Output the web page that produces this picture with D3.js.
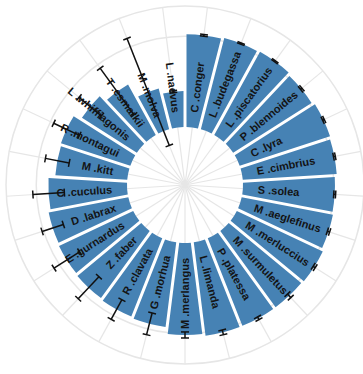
<!DOCTYPE html>
<html>
<head>
<meta charset="utf-8">
<script src="https://cdn.jsdelivr.net/npm/d3@7"></script>
<style>
  html, body { margin: 0; padding: 0; background: #fff; }
  svg { display: block; }
</style>
</head>
<body>
<svg id="chart" width="363" height="374"></svg>
<script>
// Species, in clockwise order from the top
const species = [
  "C .conger", "L .budegassa", "L .piscatorius", "P .blennoides", "C .lyra",
  "E .cimbrius", "S .solea", "M .aeglefinus", "M .merluccius", "M .surmuletus",
  "P .platessa", "L .limanda", "M .merlangus", "G .morhua", "R .clavata",
  "Z .faber", "E .gurnardus", "D .labrax", "C .cuculus", "M .kitt",
  "R .montagui", "L .whiffiagonis", "T .esmarkii", "M .molva", "L .naevus"
];

// Mean value per species
const means = [
  3.07, 3.11, 3.14, 3.07, 3.14,
  3.11, 3.04, 3.07, 3.14, 3.11,
  3.11, 3.11, 3.04, 2.82, 2.78,
  2.74, 2.71, 2.68, 2.60, 2.38,
  2.41, 2.15, 1.90, 1.39, 1.19
];

// Error (half-width) per species
const errors = [
  0.03, 0.02, 0.02, 0.03, 0.03,
  0.03, 0.03, 0.04, 0.04, 0.08,
  0.05, 0.08, 0.10, 0.37, 0.37,
  0.50, 0.50, 0.37, 0.52, 0.40,
  0.47, 0.48, 0.95, 1.90, 0.03
];

// Radial grid levels
const gridLevels = [3, 4];

const svg = d3.select("#chart");
const cx = 185, cy = 185;
const innerRadius = 58, outerRadius = 179;

const g = svg.append("g").attr("transform", `translate(${cx},${cy})`);

const x = d3.scaleBand()
  .domain(species)
  .range([0, 2 * Math.PI])
  .align(0);

const y = d3.scaleLinear()
  .domain([0, 4])
  .range([innerRadius, outerRadius]);

const data = species.map((s, i) => ({ name: s, mean: means[i], err: errors[i] }));

const midAngle = d => x(d.name) + x.bandwidth() / 2;
const deg = a => a * 180 / Math.PI;

// Spokes at the centre of each band
g.append("g")
  .selectAll("line")
  .data(data)
  .join("line")
  .attr("x1", 0).attr("y1", 0)
  .attr("x2", d => outerRadius * Math.sin(midAngle(d)))
  .attr("y2", d => -outerRadius * Math.cos(midAngle(d)))
  .attr("stroke", "#e6e6e6")
  .attr("stroke-width", 1.2);

// Concentric grid circles
g.append("g")
  .selectAll("circle")
  .data(gridLevels)
  .join("circle")
  .attr("r", d => y(d))
  .attr("fill", "none")
  .attr("stroke", "#e6e6e6")
  .attr("stroke-width", 1.5);

// Bars
const arc = d3.arc()
  .innerRadius(innerRadius)
  .outerRadius(d => y(d.mean))
  .startAngle(d => x(d.name))
  .endAngle(d => x(d.name) + x.bandwidth())
  .padAngle(0.012)
  .padRadius(250);

g.append("g")
  .selectAll("path")
  .data(data)
  .join("path")
  .attr("d", arc)
  .attr("fill", "steelblue");

// Labels inside the bars, flipped on the left half so they read upright
const labelRadius = 73;
g.append("g")
  .selectAll("g")
  .data(data)
  .join("g")
  .attr("transform", d => `rotate(${deg(midAngle(d)) - 90}) translate(${labelRadius},0)`)
  .append("text")
  .attr("transform", d => deg(midAngle(d)) >= 179.999 ? "rotate(180)" : null)
  .attr("text-anchor", d => deg(midAngle(d)) >= 179.999 ? "end" : "start")
  .attr("dy", "0.35em")
  .attr("font-family", "'Liberation Sans', Arial, sans-serif")
  .attr("font-weight", "bold")
  .attr("font-size", 11)
  .attr("fill", "#141414")
  .text(d => d.name);

// Error bars along each bar's radius
const cap = 4;
const eb = g.append("g")
  .selectAll("g")
  .data(data)
  .join("g")
  .attr("transform", d => `rotate(${deg(midAngle(d)) - 90})`)
  .attr("stroke", "#111")
  .attr("stroke-width", 1.5);

eb.append("line")
  .attr("x1", d => y(d.mean - d.err)).attr("y1", 0)
  .attr("x2", d => y(d.mean + d.err)).attr("y2", 0);
eb.append("line")
  .attr("x1", d => y(d.mean - d.err)).attr("x2", d => y(d.mean - d.err))
  .attr("y1", -cap).attr("y2", cap);
eb.append("line")
  .attr("x1", d => y(d.mean + d.err)).attr("x2", d => y(d.mean + d.err))
  .attr("y1", -cap).attr("y2", cap);
</script>
</body>
</html>
